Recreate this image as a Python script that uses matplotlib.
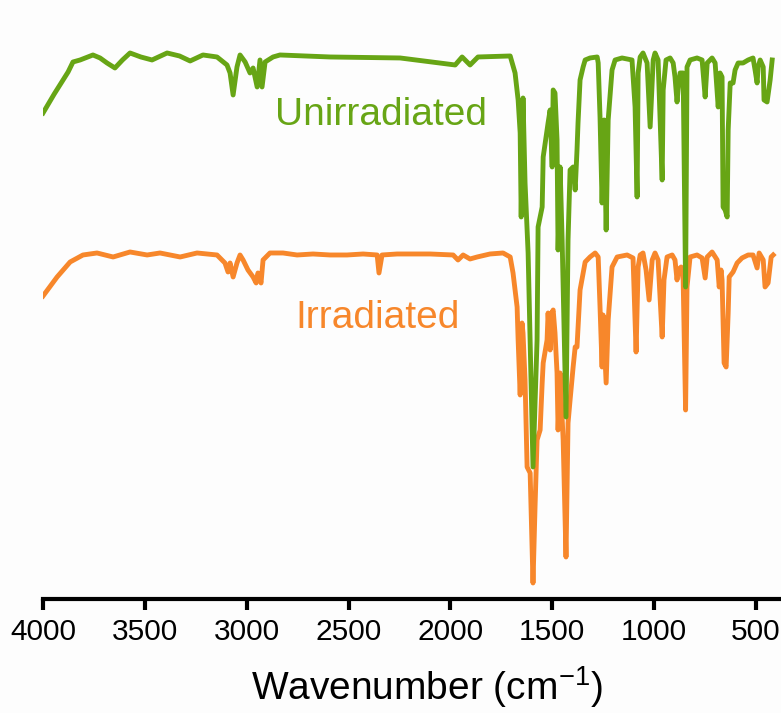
import matplotlib
matplotlib.use("Agg")
import matplotlib.pyplot as plt

plt.rcParams['font.family'] = ['Liberation Sans', 'DejaVu Sans']
plt.rcParams['mathtext.fontset'] = 'custom'
plt.rcParams['mathtext.rm'] = 'Liberation Sans'
plt.rcParams['mathtext.it'] = 'Liberation Sans'

# FTIR spectra (wavenumber in cm-1, transmittance in a.u., curves stacked)
unirr_wn = [4000, 3945, 3902, 3877, 3853, 3818, 3755, 3720, 3686, 3647, 3610, 3573,
            3520, 3465, 3391, 3330, 3278, 3215, 3146,
            3097, 3082, 3067, 3048, 3033, 3008, 2984, 2969, 2949, 2935, 2925, 2910,
            2871, 2837, 2591, 2247, 1977, 1943, 1904, 1865, 1717, 1707, 1683, 1668,
            1658, 1653, 1644, 1634, 1619, 1595, 1575, 1570, 1550, 1545, 1521, 1511,
            1501, 1496, 1487, 1477, 1472, 1462, 1452, 1433, 1423, 1413, 1398, 1388,
            1379, 1374, 1364, 1349, 1339, 1315, 1280, 1275, 1266, 1256, 1246, 1236,
            1226, 1207, 1192, 1158, 1109, 1094, 1084, 1079, 1069, 1055, 1035, 1020,
            1005, 996, 981, 961, 956, 942, 922, 907, 898, 888, 883, 873, 858, 846,
            839, 824, 790, 765, 750, 740, 716, 701, 686, 677, 667, 662, 652, 642,
            637, 627, 613, 603, 588, 564, 539, 515, 505, 495, 490, 480, 465, 461,
            446, 431, 421]
unirr_t = [97.2, 101.0, 103.8, 105.4, 107.4, 107.8, 108.8, 108.2, 107.2, 106.2, 107.8, 109.2,
           108.4, 107.8, 109.2, 108.6, 107.6, 108.8, 108.4,
           106.8, 105.2, 100.8, 106.4, 108.8, 107.4, 105.2, 106.2, 102.4, 107.8, 102.4, 107.4,
           108.4, 108.8, 108.4, 108.2, 106.8, 108.4, 106.8, 108.4, 108.6, 108.6, 105.2, 99.8,
           93.2, 76.4, 100.2, 83.2, 69.2, 26.4, 51.8, 74.4, 78.4, 88.4, 95.2, 97.8,
           86.4, 101.8, 101.2, 91.8, 69.8, 86.4, 71.8, 36.4, 71.8, 85.8, 86.4, 81.8,
           89.8, 95.2, 103.8, 106.4, 107.8, 108.2, 108.4, 107.2, 96.4, 79.2, 95.8, 73.8,
           95.8, 105.8, 107.8, 108.2, 107.8, 98.4, 80.4, 105.2, 108.4, 109.2, 107.2, 94.4,
           107.8, 109.2, 107.8, 83.8, 101.8, 107.8, 108.2, 107.2, 104.4, 99.4, 101.8, 105.2, 105.2, 62.4,
           106.4, 107.8, 108.2, 107.8, 100.4, 107.2, 108.2, 107.2, 98.4, 105.2, 104.4, 78.4, 77.8, 76.4,
           93.8, 103.2, 103.2, 105.8, 107.2, 107.2, 107.8, 108.2, 105.8, 103.2, 106.4, 107.8, 106.4, 99.8,
           99.4, 103.8, 107.8]

irr_wn = [4000, 3931, 3867, 3804, 3735, 3656, 3573, 3489, 3426, 3327, 3244, 3146,
          3107, 3092, 3082, 3067, 3048, 3033, 3018, 2994, 2969, 2954, 2945, 2930,
          2920, 2886, 2822, 2753, 2675, 2591, 2508, 2429, 2360, 2351, 2336, 2262,
          2100, 1987, 1963, 1938, 1904, 1869, 1806, 1742, 1707, 1693, 1673, 1668,
          1658, 1649, 1644, 1634, 1624, 1609, 1595, 1585, 1575, 1560, 1550, 1545,
          1526, 1521, 1511, 1501, 1496, 1487, 1477, 1472, 1462, 1447, 1433, 1423,
          1413, 1398, 1388, 1379, 1364, 1339, 1315, 1290, 1275, 1266, 1256, 1251,
          1236, 1226, 1207, 1182, 1133, 1104, 1089, 1079, 1069, 1055, 1040, 1025,
          1010, 996, 981, 961, 952, 937, 912, 898, 888, 883, 868, 858, 846, 839,
          824, 790, 765, 750, 740, 716, 691, 681, 672, 667, 657, 647, 637, 632,
          613, 593, 569, 539, 515, 495, 485, 465, 456, 441, 426, 416]
irr_t = [60.6, 64.4, 67.4, 68.8, 69.2, 68.4, 69.4, 68.8, 69.2, 68.4, 69.2, 68.8,
         67.2, 65.4, 67.2, 64.4, 67.2, 68.8, 67.8, 65.8, 64.4, 63.2, 65.2, 63.2,
         67.8, 69.2, 69.2, 68.8, 69.0, 68.8, 68.8, 69.0, 68.8, 65.2, 68.8, 69.0,
         69.0, 68.8, 67.8, 68.8, 68.0, 68.4, 69.0, 69.2, 68.4, 65.2, 58.4, 51.8,
         40.8, 55.2, 53.2, 43.8, 26.4, 25.2, 3.2, 18.4, 31.8, 33.8, 43.2, 47.2,
         51.8, 57.2, 49.8, 57.4, 57.8, 53.2, 45.2, 33.8, 45.2, 31.8, 8.4, 35.2,
         39.8, 46.4, 50.4, 50.4, 61.8, 67.4, 68.4, 69.2, 68.4, 58.4, 46.4, 56.8,
         43.2, 55.8, 66.4, 68.4, 68.8, 68.2, 49.4, 66.4, 68.8, 69.2, 65.8, 59.8,
         67.8, 69.2, 67.8, 52.4, 63.8, 68.4, 68.8, 67.8, 63.8, 65.8, 66.4, 63.8, 37.8, 62.4,
         68.4, 68.8, 68.2, 64.2, 68.4, 69.4, 67.8, 62.4, 65.8, 63.8, 47.2, 46.4, 57.2, 64.4,
         65.4, 67.2, 68.2, 68.8, 68.8, 66.2, 69.2, 67.8, 62.4, 63.2, 68.4, 68.8]

labels = ["Unirradiated", "Irradiated"]
xticks = [4000, 3500, 3000, 2500, 2000, 1500, 1000, 500]

green = '#67A515'
orange = '#F7872B'

fig = plt.figure(figsize=(7.81, 7.13), dpi=100)
fig.patch.set_facecolor('#fdfdfd')
ax = fig.add_axes([0.0551, 0.1599, 0.9443, 0.8219])
ax.set_facecolor('#fdfdfd')

ax.plot(irr_wn, irr_t, color=orange, lw=3.5, solid_joinstyle='round', zorder=2)
ax.plot(unirr_wn, unirr_t, color=green, lw=3.5, solid_joinstyle='round', zorder=3)

ax.text(2861, 96.8, labels[0], color=green, fontsize=28, ha='left', va='center')
ax.text(2763, 56.2, labels[1], color=orange, fontsize=28, ha='left', va='center')

ax.set_xlim(4000, 380)
ax.set_ylim(0, 117.2)
ax.set_xticks(xticks)
ax.set_xticklabels([str(t) for t in xticks], fontsize=21.5)
ax.set_yticks([])
for s in ['left', 'right', 'top']:
    ax.spines[s].set_visible(False)
ax.spines['bottom'].set_linewidth(3)
ax.tick_params(axis='x', direction='out', length=8, width=3, pad=6)
ax.set_xlabel('Wavenumber (cm$^{\\mathregular{-1}}$)', fontsize=28)
ax.xaxis.set_label_coords(0.52, -0.112)

fig.savefig('out.png', dpi=100, facecolor=fig.get_facecolor())
